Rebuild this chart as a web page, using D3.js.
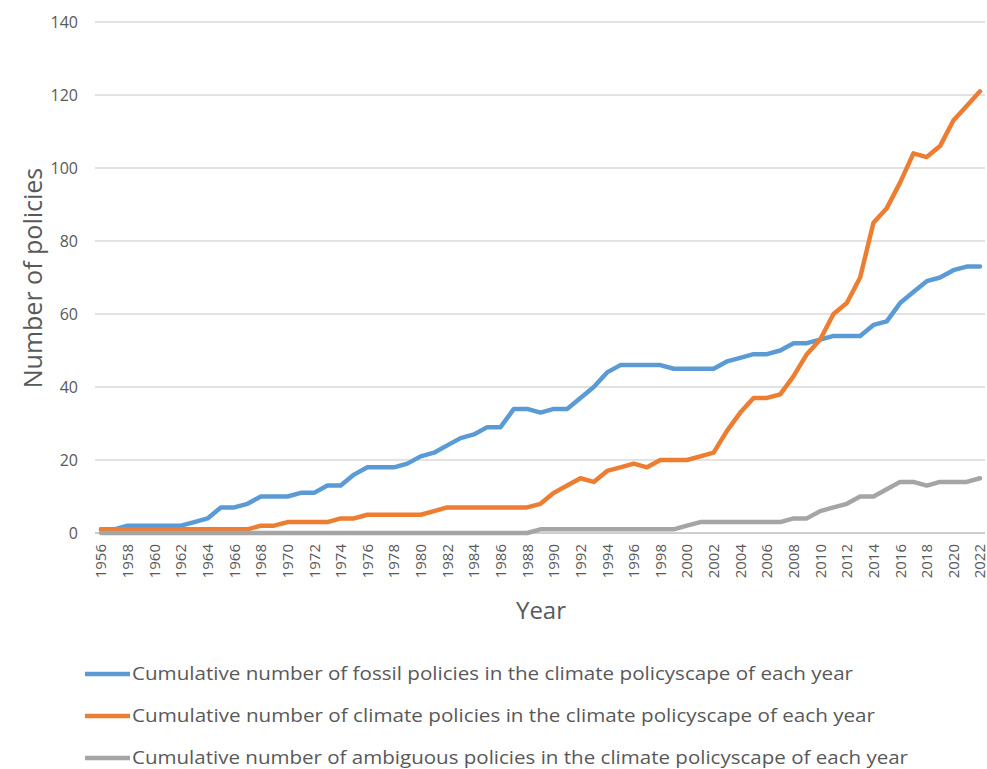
<!DOCTYPE html>
<html>
<head>
<meta charset="utf-8">
<script src="https://cdn.jsdelivr.net/npm/d3@7"></script>
<style>
  html, body { margin: 0; padding: 0; background: #ffffff; }
  svg { display: block; font-family: "Open Sans", "Noto Sans", sans-serif; }
</style>
</head>
<body>
<svg id="chart" width="987" height="769"></svg>
<script>
// Years covered by the policyscape series
const years = d3.range(1956, 2023);

// Cumulative number of fossil policies per year
const fossil = [
  1, 1, 2, 2, 2, 2, 2, 3, 4, 7,
  7, 8, 10, 10, 10, 11, 11, 13, 13, 16,
  18, 18, 18, 19, 21, 22, 24, 26, 27, 29,
  29, 34, 34, 33, 34, 34, 37, 40, 44, 46,
  46, 46, 46, 45, 45, 45, 45, 47, 48, 49,
  49, 50, 52, 52, 53, 54, 54, 54, 57, 58,
  63, 66, 69, 70, 72, 73, 73
];

// Cumulative number of climate policies per year
const climate = [
  1, 1, 1, 1, 1, 1, 1, 1, 1, 1,
  1, 1, 2, 2, 3, 3, 3, 3, 4, 4,
  5, 5, 5, 5, 5, 6, 7, 7, 7, 7,
  7, 7, 7, 8, 11, 13, 15, 14, 17, 18,
  19, 18, 20, 20, 20, 21, 22, 28, 33, 37,
  37, 38, 43, 49, 53, 60, 63, 70, 85, 89,
  96, 104, 103, 106, 113, 117, 121
];

// Cumulative number of ambiguous policies per year
const ambiguous = [
  0, 0, 0, 0, 0, 0, 0, 0, 0, 0,
  0, 0, 0, 0, 0, 0, 0, 0, 0, 0,
  0, 0, 0, 0, 0, 0, 0, 0, 0, 0,
  0, 0, 0, 1, 1, 1, 1, 1, 1, 1,
  1, 1, 1, 1, 2, 3, 3, 3, 3, 3,
  3, 3, 4, 4, 6, 7, 8, 10, 10, 12,
  14, 14, 13, 14, 14, 14, 15
];

const yTicks = [0, 20, 40, 60, 80, 100, 120, 140];
const xTickYears = years.filter(y => (y - 1956) % 2 === 0);

const seriesNames = [
  "Cumulative number of fossil policies in the climate policyscape of each year",
  "Cumulative number of climate policies in the climate policyscape of each year",
  "Cumulative number of ambiguous policies in the climate policyscape of each year"
];
const seriesColors = ["#5B9BD5", "#ED7D31", "#A5A5A5"];
const seriesValues = [fossil, climate, ambiguous];

const svg = d3.select("#chart");

const x = d3.scaleLinear().domain([1956, 2022]).range([101, 980]);
const y = d3.scaleLinear().domain([0, 140]).range([533, 22]);

const gridLeft = 95, gridRight = 985;
const textColor = "#595959";

// Horizontal gridlines
svg.append("g")
  .selectAll("line")
  .data(yTicks.filter(t => t !== 0))
  .join("line")
  .attr("x1", gridLeft).attr("x2", gridRight)
  .attr("y1", d => y(d)).attr("y2", d => y(d))
  .attr("stroke", "#D9D9D9").attr("stroke-width", 1.3);

// Baseline
svg.append("line")
  .attr("x1", gridLeft).attr("x2", gridRight)
  .attr("y1", y(0)).attr("y2", y(0))
  .attr("stroke", "#BFBFBF").attr("stroke-width", 1.3);

// Y axis labels
const yAxis = d3.axisLeft(y).tickValues(yTicks).tickSize(0).tickPadding(0);
const yg = svg.append("g").attr("transform", "translate(78,0)").call(yAxis);
yg.select(".domain").remove();
yg.selectAll("text")
  .attr("fill", textColor)
  .attr("font-size", 16)
  .attr("font-family", "Open Sans, sans-serif")
  .attr("dy", "0.35em");

// X axis labels (rotated)
const xAxis = d3.axisBottom(x).tickValues(xTickYears).tickFormat(d3.format("d")).tickSize(0).tickPadding(0);
const xg = svg.append("g").attr("transform", `translate(0,${y(0)})`).call(xAxis);
xg.select(".domain").remove();
xg.selectAll("text")
  .attr("fill", textColor)
  .attr("font-size", 15)
  .attr("font-family", "Open Sans, sans-serif")
  .attr("transform", "rotate(-90)")
  .attr("text-anchor", "end")
  .attr("x", -11)
  .attr("y", 0)
  .attr("dy", "0.33em");

// Series lines
const line = d3.line()
  .x((d, i) => x(years[i]))
  .y(d => y(d));

seriesValues.forEach((vals, i) => {
  svg.append("path")
    .datum(vals)
    .attr("d", line)
    .attr("fill", "none")
    .attr("stroke", seriesColors[i])
    .attr("stroke-width", 4.5)
    .attr("stroke-linejoin", "round")
    .attr("stroke-linecap", "round");
});

// Axis titles
svg.append("text")
  .attr("x", 541).attr("y", 619)
  .attr("text-anchor", "middle")
  .attr("fill", textColor)
  .attr("font-size", 24)
  .text("Year");

svg.append("text")
  .attr("transform", "translate(42,278) rotate(-90)")
  .attr("text-anchor", "middle")
  .attr("fill", textColor)
  .attr("font-size", 25)
  .text("Number of policies");

// Legend
const legendRows = [674, 716, 758];
const legendWidths = [721, 743, 776];
const legend = svg.append("g");
seriesNames.forEach((name, i) => {
  legend.append("line")
    .attr("x1", 85).attr("x2", 130)
    .attr("y1", legendRows[i]).attr("y2", legendRows[i])
    .attr("stroke", seriesColors[i])
    .attr("stroke-width", 4.5);
  legend.append("text")
    .attr("x", 132).attr("y", legendRows[i])
    .attr("dy", "0.3em")
    .attr("fill", textColor)
    .attr("font-size", 18.5)
    .attr("textLength", legendWidths[i])
    .attr("lengthAdjust", "spacingAndGlyphs")
    .text(name);
});
</script>
</body>
</html>
